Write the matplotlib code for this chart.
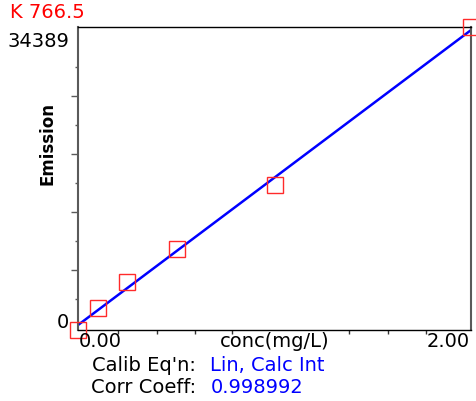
import numpy as np
import matplotlib
matplotlib.use("Agg")
import matplotlib.pyplot as plt

# ---- data ----
element_line = "K 766.5"
conc = [0.0, 0.1, 0.25, 0.5, 1.0, 2.0]            # mg/L
emission = [0, 2447, 5349, 9184, 16467, 34389]     # intensity
y_max = 34389
x_label = "conc(mg/L)"
y_label = "Emission"
x_tick_labels = ["0.00", "2.00"]
y_tick_labels = ["0", "34389"]
calib_eq = "Lin, Calc Int"
corr_coeff = "0.998992"

W, H = 476, 402
fig = plt.figure(figsize=(W / 100, H / 100), dpi=100)
plt.rcParams['font.family'] = ['DejaVu Sans']

def T(x, y, s, **kw):
    return fig.text(x / W, 1 - y / H, s, **kw)

ax = fig.add_axes([78.3 / W, 1 - 330.5 / H, (471.5 - 78.3) / W, (330.5 - 28.3) / H])
ax.set_xlim(0, 2.0)
ax.set_ylim(0, y_max)

slope, intercept = np.polyfit(conc, emission, 1)
xs = np.array([0.0, 2.0])
ax.plot(xs, slope * xs + intercept, color="#0000FF", lw=1.8, zorder=2)
ax.plot(conc, emission, "s", ms=12, mfc="none", mec="#FF2a2a", mew=1.0,
        clip_on=False, zorder=3)

# spines
for side in ("left", "right"):
    ax.spines[side].set_color("#5a5a5a")
    ax.spines[side].set_linewidth(1.5)
for side in ("top", "bottom"):
    ax.spines[side].set_color("black")
    ax.spines[side].set_linewidth(1.0)

# ticks
xticks = [0.2035, 0.399, 0.594, 0.783, 1.378, 1.573, 1.768]
ax.set_xticks(xticks)
ax.tick_params(axis="x", direction="out", length=3, width=1.0, color="#333333",
               labelbottom=False)
ystep = 3304
yminor = [3471 + ystep * k for k in (0, 2, 4, 6, 8)]
ymajor = [3471 + ystep * k for k in (1, 3, 5, 7)]
ax.set_yticks(ymajor)
ax.set_yticks(yminor, minor=True)
ax.tick_params(axis="y", which="major", direction="out", length=5, width=1.0,
               color="#5a5a5a", labelleft=False)
ax.tick_params(axis="y", which="minor", direction="out", length=2.5, width=1.0,
               color="#5a5a5a", labelleft=False)

fs = 14
# title
T(10, 18.3, element_line, color="#FF0000", fontsize=fs, ha="left", va="baseline")
# y tick labels
T(69.5, 47, y_tick_labels[1], fontsize=fs, ha="right", va="baseline")
T(69.5, 328, y_tick_labels[0], fontsize=fs, ha="right", va="baseline")
# x tick labels
T(79, 347, x_tick_labels[0], fontsize=fs, ha="left", va="baseline")
T(469.5, 347, x_tick_labels[1], fontsize=fs, ha="right", va="baseline")
T(274.5, 347, x_label, fontsize=fs, ha="center", va="baseline")
# y label
T(47, 185, y_label, fontsize=12, fontweight="bold", rotation=90,
  ha="center", va="bottom")
# info lines
T(92, 370.7, "Calib Eq'n:", fontsize=fs, ha="left", va="baseline")
T(210.5, 370.7, calib_eq, fontsize=fs, color="#0000FF", ha="left", va="baseline")
T(91, 393.3, "Corr Coeff:", fontsize=fs, ha="left", va="baseline")
T(210.5, 393.3, corr_coeff, fontsize=fs, color="#0000FF", ha="left", va="baseline")

fig.savefig("out.png", dpi=100)
